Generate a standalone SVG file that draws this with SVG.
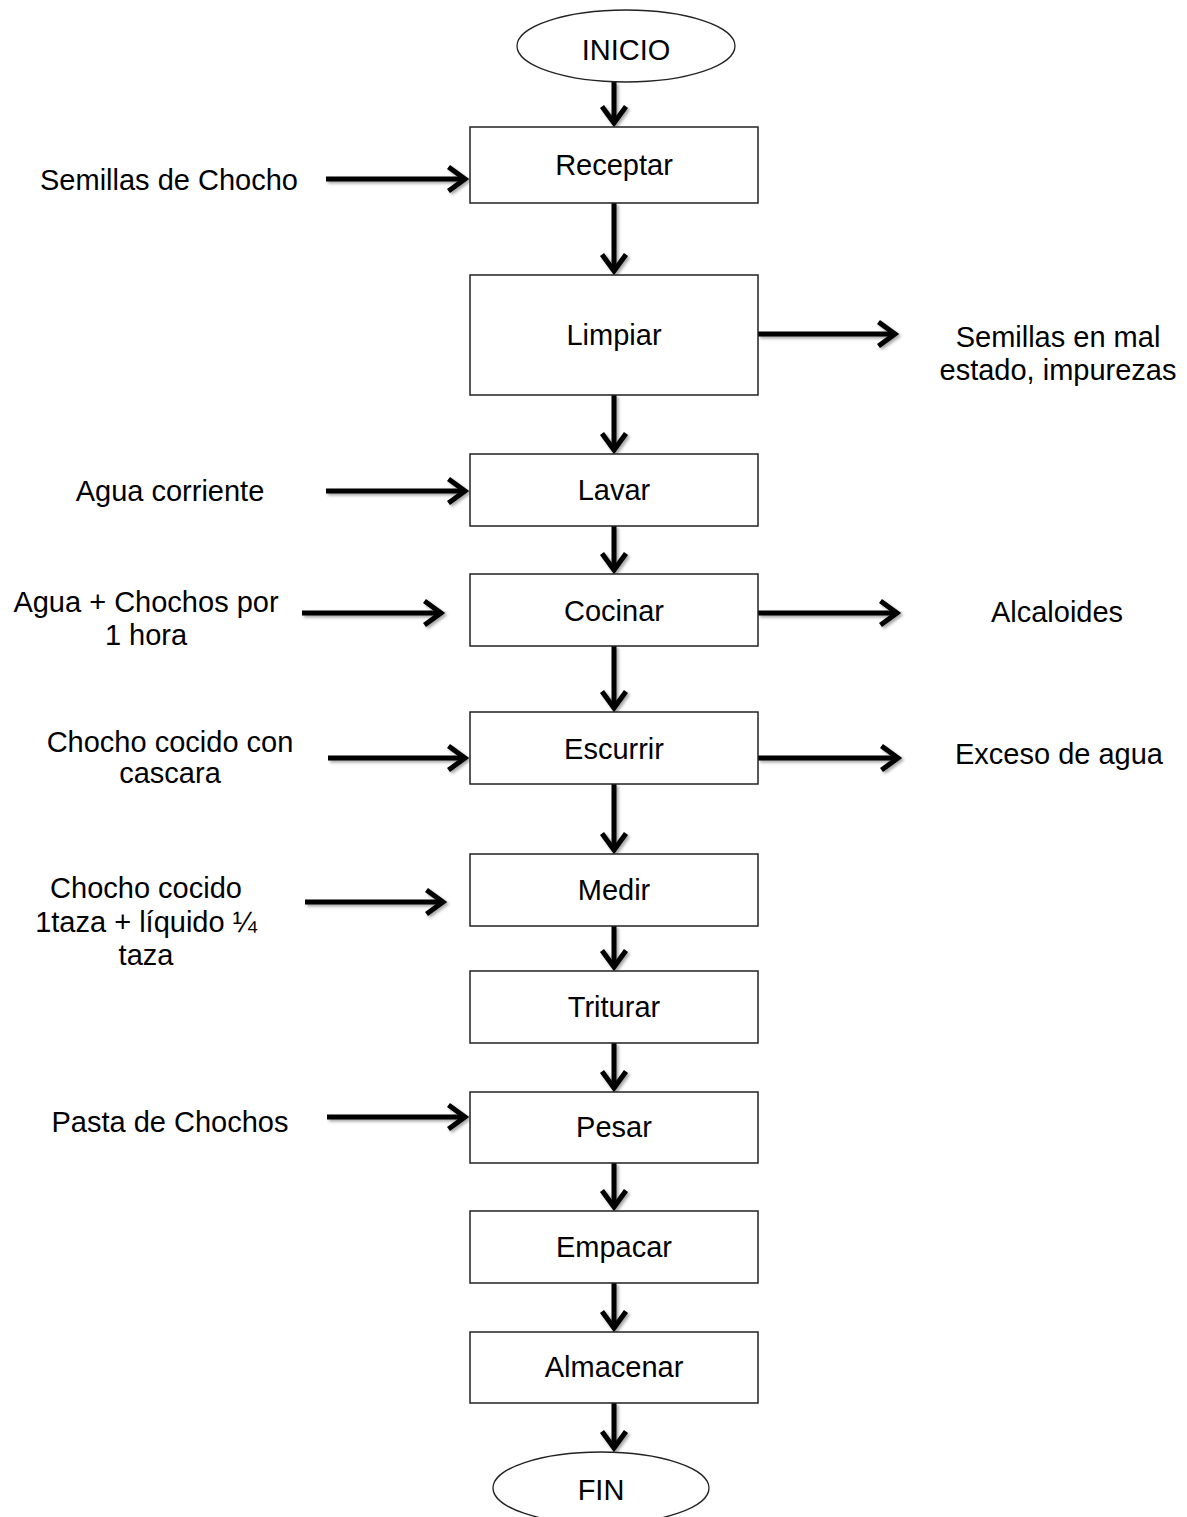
<svg xmlns="http://www.w3.org/2000/svg" width="1187" height="1517" viewBox="0 0 1187 1517">
<defs>
<style>
.box{fill:#fff;stroke:#222;stroke-width:1.5}
.term{fill:#fff;stroke:#222;stroke-width:1.3}
.t{font-family:"Liberation Sans",Arial,sans-serif;font-size:29px;fill:#000;text-anchor:middle}
.c{fill:none;stroke:#000;stroke-width:5;marker-end:url(#arr)}
</style>
<marker id="arr" viewBox="0 0 20 24" refX="17" refY="12" markerWidth="20" markerHeight="24" markerUnits="userSpaceOnUse" orient="auto" overflow="visible">
<path d="M0.5,0 L17,12 L0.5,24" fill="none" stroke="#000" stroke-width="5" stroke-linejoin="miter"/>
</marker>
<filter id="sh" x="-20%" y="-20%" width="140%" height="140%">
<feDropShadow dx="2" dy="2" stdDeviation="1.5" flood-color="#000" flood-opacity="0.35"/>
</filter>
</defs>
<rect width="1187" height="1517" fill="#fff"/>

<g id="connectors" filter="url(#sh)">
<path class="c" d="M614,82 V123"/>
<path class="c" d="M614,203 V271"/>
<path class="c" d="M614,395 V450"/>
<path class="c" d="M614,526 V570"/>
<path class="c" d="M614,646 V708"/>
<path class="c" d="M614,784 V850"/>
<path class="c" d="M614,926 V967"/>
<path class="c" d="M614,1043 V1088"/>
<path class="c" d="M614,1163 V1207"/>
<path class="c" d="M614,1283 V1328"/>
<path class="c" d="M614,1403 V1448"/>
<path class="c" d="M326,179 H465"/>
<path class="c" d="M326,491 H465"/>
<path class="c" d="M302,613 H441"/>
<path class="c" d="M328,758 H465"/>
<path class="c" d="M305,902 H443"/>
<path class="c" d="M327,1117 H465"/>
<path class="c" d="M758,334 H895"/>
<path class="c" d="M758,613 H897"/>
<path class="c" d="M758,758 H898"/>
</g>

<g id="inicio"><ellipse class="term" cx="626" cy="46" rx="109" ry="36"/><text class="t" x="626" y="60">INICIO</text></g>
<g id="receptar"><rect class="box" x="470" y="127" width="288" height="76"/><text class="t" x="614" y="175">Receptar</text></g>
<g id="limpiar"><rect class="box" x="470" y="275" width="288" height="120"/><text class="t" x="614" y="345">Limpiar</text></g>
<g id="lavar"><rect class="box" x="470" y="454" width="288" height="72"/><text class="t" x="614" y="500">Lavar</text></g>
<g id="cocinar"><rect class="box" x="470" y="574" width="288" height="72"/><text class="t" x="614" y="621">Cocinar</text></g>
<g id="escurrir"><rect class="box" x="470" y="712" width="288" height="72"/><text class="t" x="614" y="759">Escurrir</text></g>
<g id="medir"><rect class="box" x="470" y="854" width="288" height="72"/><text class="t" x="614" y="900">Medir</text></g>
<g id="triturar"><rect class="box" x="470" y="971" width="288" height="72"/><text class="t" x="614" y="1017">Triturar</text></g>
<g id="pesar"><rect class="box" x="470" y="1092" width="288" height="71"/><text class="t" x="614" y="1137">Pesar</text></g>
<g id="empacar"><rect class="box" x="470" y="1211" width="288" height="72"/><text class="t" x="614" y="1257">Empacar</text></g>
<g id="almacenar"><rect class="box" x="470" y="1332" width="288" height="71"/><text class="t" x="614" y="1377">Almacenar</text></g>
<g id="fin"><ellipse class="term" cx="601" cy="1488" rx="108" ry="36"/><text class="t" x="601" y="1500">FIN</text></g>

<g id="in-semillas"><text class="t" x="169" y="190">Semillas de Chocho</text></g>
<g id="out-impurezas"><text class="t" x="1058" y="347">Semillas en mal</text><text class="t" x="1058" y="380">estado, impurezas</text></g>
<g id="in-agua"><text class="t" x="170" y="501">Agua corriente</text></g>
<g id="in-agua-chochos"><text class="t" x="146" y="612">Agua + Chochos por</text><text class="t" x="146" y="645">1 hora</text></g>
<g id="out-alcaloides"><text class="t" x="1057" y="622">Alcaloides</text></g>
<g id="in-cocido-cascara"><text class="t" x="170" y="752">Chocho cocido con</text><text class="t" x="170" y="783">cascara</text></g>
<g id="out-exceso"><text class="t" x="1059" y="764">Exceso de agua</text></g>
<g id="in-cocido-taza"><text class="t" x="146" y="898">Chocho cocido</text><text class="t" x="146" y="932">1taza + líquido ¼</text><text class="t" x="146" y="965">taza</text></g>
<g id="in-pasta"><text class="t" x="170" y="1132">Pasta de Chochos</text></g>
</svg>
